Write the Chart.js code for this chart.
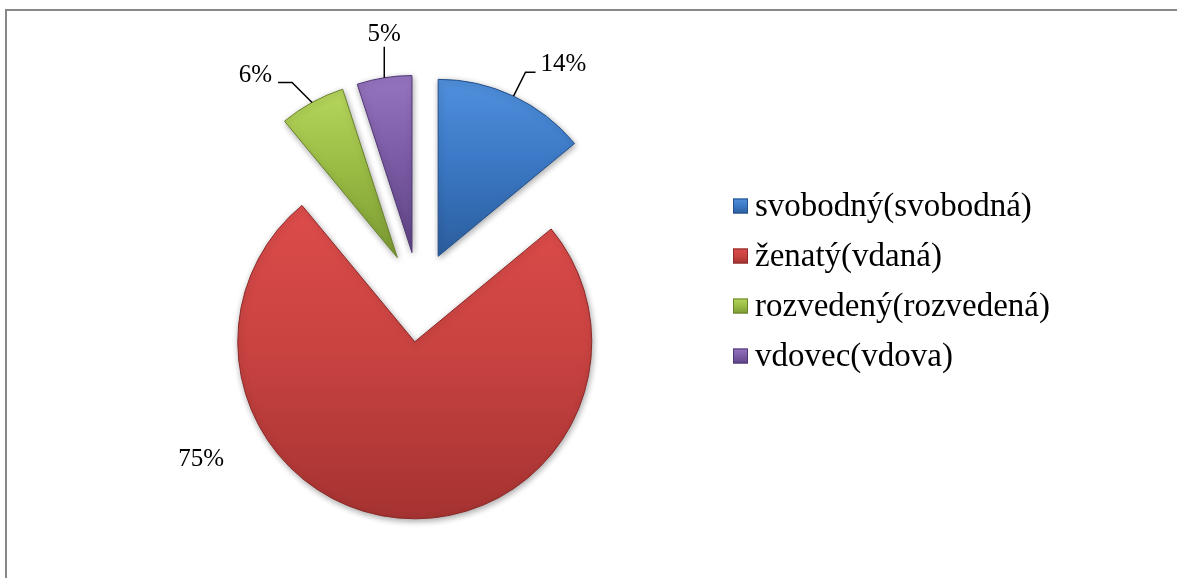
<!DOCTYPE html>
<html>
<head>
<meta charset="utf-8">
<script src="https://cdn.jsdelivr.net/npm/chart.js@4.4.1/dist/chart.umd.min.js"></script>
<style>
    html, body { margin: 0; padding: 0; background: #fff; }
    canvas { display: block; }
</style>
</head>
<body>
<canvas id="pieChart" width="1177" height="578"></canvas>
<script>
// ----- DATA -----
const labels = ['svobodný(svobodná)', 'ženatý(vdaná)', 'rozvedený(rozvedená)', 'vdovec(vdova)'];
const values = [14, 75, 6, 5];

// ----- COLOURS (light top -> dark bottom, bevel look) -----
const lightColors = ['#5090dc', '#dc4c4b', '#b6d65c', '#9675c0'];
const midColors = ['#3c79c6', '#c94341', '#9bbd45', '#7c5ca6'];
const darkColors = ['#2b5e9e', '#a53331', '#7c9a33', '#5f4486'];
const edgeColors = ['#24508a', '#8a2a28', '#68822a', '#4f3775'];

// ----- LAYOUT -----
const RADIUS = 177;
const EXPLODE = 45;
const LABEL_FONT = '25px "Liberation Serif", "Times New Roman", serif';
const LEGEND_FONT = '33px "Liberation Serif", "Times New Roman", serif';

// placement of the percent labels, relative to the point on the arc at mid-angle
const labelLayout = [
    { leader: true, elbowX: 12, elbowY: -24, run: 10, textDx: 5, textDy: -8, align: 'left' },
    { leader: false, textDx: -197, textDy: -59, align: 'center' },
    { leader: true, elbowX: -20, elbowY: -20, run: -14, textDx: -6, textDy: -7, align: 'right' },
    { leader: true, elbowX: 0, elbowY: -31, run: 0, textDx: 0, textDy: -12, align: 'center' }
];

function sliceAngles(i) {
    const total = values.reduce((a, b) => a + b, 0);
    let before = 0;
    for (let k = 0; k < i; k++) before += values[k];
    const start = -Math.PI / 2 + 2 * Math.PI * before / total;
    const end = start + 2 * Math.PI * values[i] / total;
    return { start, end, mid: (start + end) / 2 };
}

// vertical gradient covering the exploded slice
function sliceGradient(context) {
    const chart = context.chart;
    const area = chart.chartArea;
    const i = context.dataIndex;
    if (!area || i === undefined) return midColors[i || 0];
    const { start, end, mid } = sliceAngles(i);
    const cy = (area.top + area.bottom) / 2 + Math.sin(mid) * EXPLODE;
    let top = cy, bottom = cy;
    for (let a = start; a <= end + 0.001; a += 0.01) {
        const y = cy + Math.sin(Math.min(a, end)) * RADIUS;
        top = Math.min(top, y);
        bottom = Math.max(bottom, y);
    }
    const g = chart.ctx.createLinearGradient(0, top, 0, bottom);
    g.addColorStop(0, lightColors[i]);
    g.addColorStop(0.45, midColors[i]);
    g.addColorStop(1, darkColors[i]);
    return g;
}

// ----- PLUGINS -----
const framePlugin = {
    id: 'frame',
    beforeDraw(chart) {
        const c = chart.ctx;
        c.save();
        c.strokeStyle = '#888888';
        c.lineWidth = 2;
        c.beginPath();
        c.moveTo(6, chart.height);
        c.lineTo(6, 10);
        c.lineTo(chart.width, 10);
        c.stroke();
        c.restore();
    }
};

// push every slice out from the centre along its mid-angle
const explodePlugin = {
    id: 'explode',
    afterDatasetsUpdate(chart) {
        chart.getDatasetMeta(0).data.forEach(arc => {
            const mid = (arc.startAngle + arc.endAngle) / 2;
            arc.x += Math.cos(mid) * EXPLODE;
            arc.y += Math.sin(mid) * EXPLODE;
        });
    },
    beforeDatasetsDraw(chart) {
        const c = chart.ctx;
        c.save();
        c.shadowColor = 'rgba(0, 0, 0, 0.35)';
        c.shadowBlur = 6;
        c.shadowOffsetX = 1;
        c.shadowOffsetY = 2;
    },
    afterDatasetsDraw(chart) {
        chart.ctx.restore();
    }
};

const labelPlugin = {
    id: 'pctLabels',
    afterDraw(chart) {
        const c = chart.ctx;
        const total = values.reduce((a, b) => a + b, 0);
        c.save();
        c.font = LABEL_FONT;
        c.fillStyle = '#000';
        c.strokeStyle = '#000';
        c.lineWidth = 1.5;
        c.textBaseline = 'middle';
        chart.getDatasetMeta(0).data.forEach((arc, i) => {
            const mid = (arc.startAngle + arc.endAngle) / 2;
            const px = arc.x + Math.cos(mid) * arc.outerRadius;
            const py = arc.y + Math.sin(mid) * arc.outerRadius;
            const lay = labelLayout[i];
            let ex = px, ey = py;
            if (lay.leader) {
                const bx = px + lay.elbowX, by = py + lay.elbowY;
                ex = bx + lay.run;
                ey = by;
                c.beginPath();
                c.moveTo(px, py);
                c.lineTo(bx, by);
                c.lineTo(ex, ey);
                c.stroke();
            }
            c.textAlign = lay.align;
            c.fillText(Math.round(values[i] / total * 100) + '%', ex + lay.textDx, ey + lay.textDy);
        });
        c.restore();
    }
};

const legendPlugin = {
    id: 'sideLegend',
    afterDraw(chart) {
        const c = chart.ctx;
        const x0 = 733, y0 = 206, step = 50, box = 15;
        c.save();
        c.font = LEGEND_FONT;
        c.textBaseline = 'middle';
        c.textAlign = 'left';
        labels.forEach((txt, i) => {
            const y = y0 + i * step;
            const g = c.createLinearGradient(0, y - box / 2, 0, y + box / 2);
            g.addColorStop(0, lightColors[i]);
            g.addColorStop(0.5, midColors[i]);
            g.addColorStop(1, darkColors[i]);
            c.fillStyle = g;
            c.fillRect(x0, y - box / 2, box, box);
            c.strokeStyle = edgeColors[i];
            c.lineWidth = 1;
            c.strokeRect(x0 + 0.5, y - box / 2 + 0.5, box - 1, box - 1);
            c.fillStyle = '#000';
            c.fillText(txt, x0 + 22, y + 1);
        });
        c.restore();
    }
};

// ----- CHART -----
const ctx = document.getElementById('pieChart').getContext('2d');
const pieChart = new Chart(ctx, {
    type: 'pie',
    data: {
        labels: labels,
        datasets: [{
            data: values,
            radius: RADIUS,
            backgroundColor: sliceGradient,
            borderColor: edgeColors,
            borderWidth: 1
        }]
    },
    options: {
        responsive: false,
        animation: false,
        events: [],
        layout: { padding: { left: 0, right: 339, top: 16, bottom: 0 } },
        plugins: {
            legend: { display: false },
            tooltip: { enabled: false }
        }
    },
    plugins: [framePlugin, explodePlugin, labelPlugin, legendPlugin]
});
</script>
</body>
</html>
